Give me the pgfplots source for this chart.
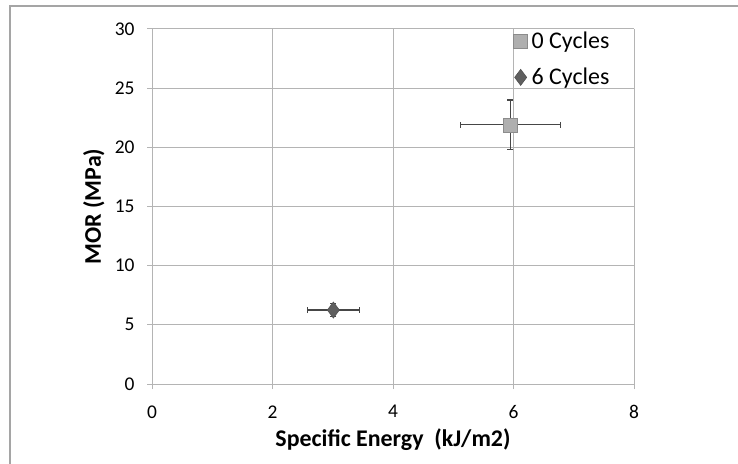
\documentclass[border=0pt]{standalone}
\usepackage{fontspec}
\setmainfont{Carlito}
\usepackage{pgfplots}
\pgfplotsset{compat=1.18}
\definecolor{gridgray}{RGB}{180,180,180}
\definecolor{framegray}{RGB}{165,165,165}
\definecolor{errgray}{RGB}{70,70,70}
\definecolor{sqfill}{RGB}{175,175,175}
\definecolor{sqdraw}{RGB}{140,140,140}
\definecolor{dmfill}{RGB}{95,95,95}
\definecolor{dmdraw}{RGB}{80,80,80}
\begin{document}
\begin{tikzpicture}
\useasboundingbox (0,0) rectangle (738bp,464bp);
\fill[white] (0,0) rectangle (738bp,464bp);
\draw[framegray, line width=1.2bp] (10bp,0) -- (10bp,458bp) -- (738bp,458bp);
\begin{axis}[
  at={(152bp,80bp)}, anchor=south west,
  scale only axis, width=482bp, height=355bp,
  xmin=0, xmax=8, ymin=0, ymax=30,
  xtick={0,2,4,6,8}, ytick={0,5,10,15,20,25,30},
  axis x line*=bottom, axis y line*=left,
  axis line style={draw=gridgray, line width=1bp, -},
  grid=major, major grid style={draw=gridgray, line width=1bp},
  tick align=outside, major tick length=5bp,
  tick style={draw=gridgray, line width=1bp},
  xticklabel={\fontsize{19.5}{22}\selectfont\pgfmathprintnumber[assume math mode=true]{\tick}},
  yticklabel={\fontsize{19.5}{22}\selectfont\pgfmathprintnumber[assume math mode=true]{\tick}},
  xticklabel style={yshift=-13bp},
  yticklabel style={xshift=-9bp},
  xlabel={\textbf{Specific Energy\ \ (kJ/m2)}},
  ylabel={\textbf{MOR (MPa)}},
  label style={font=\fontsize{24}{28}\selectfont},
  xlabel style={yshift=-3bp},
  ylabel style={yshift=3.5bp},
  legend style={at={(0.75,0.997)}, anchor=north west, draw=none, fill=none,
    font=\fontsize{24}{28}\selectfont, row sep=14bp, inner sep=0pt,
    /tikz/every odd column/.append style={column sep=2bp}},
  legend cell align=left,
]
\addplot[only marks, mark=square*, mark size=7bp,
  mark options={fill=sqfill, draw=sqdraw, line width=0.6bp},
  error bars/.cd, x dir=both, x explicit, y dir=both, y explicit,
  error bar style={errgray, line width=1.1bp},
  error mark options={errgray, line width=1.1bp, mark size=3bp, rotate=90}]
  coordinates {(5.95,21.9) +- (0.83,2.1)};
\addplot[only marks, mark=diamond*, mark size=8bp,
  mark options={fill=dmfill, draw=dmdraw, line width=0.6bp},
  error bars/.cd, x dir=both, x explicit, y dir=both, y explicit,
  error bar style={errgray, line width=1.1bp},
  error mark options={errgray, line width=1.1bp, mark size=3bp, rotate=90}]
  coordinates {(3.01,6.25) +- (0.43,0.55)};
\addlegendimage{only marks, mark=square*, mark size=7bp, mark options={fill=sqfill, draw=sqdraw, line width=0.6bp}}
\addlegendentry{0 Cycles}
\addlegendimage{only marks, mark=diamond*, mark size=8bp, mark options={fill=dmfill, draw=dmdraw, line width=0.6bp}}
\addlegendentry{6 Cycles}
\end{axis}
\end{tikzpicture}
\end{document}
